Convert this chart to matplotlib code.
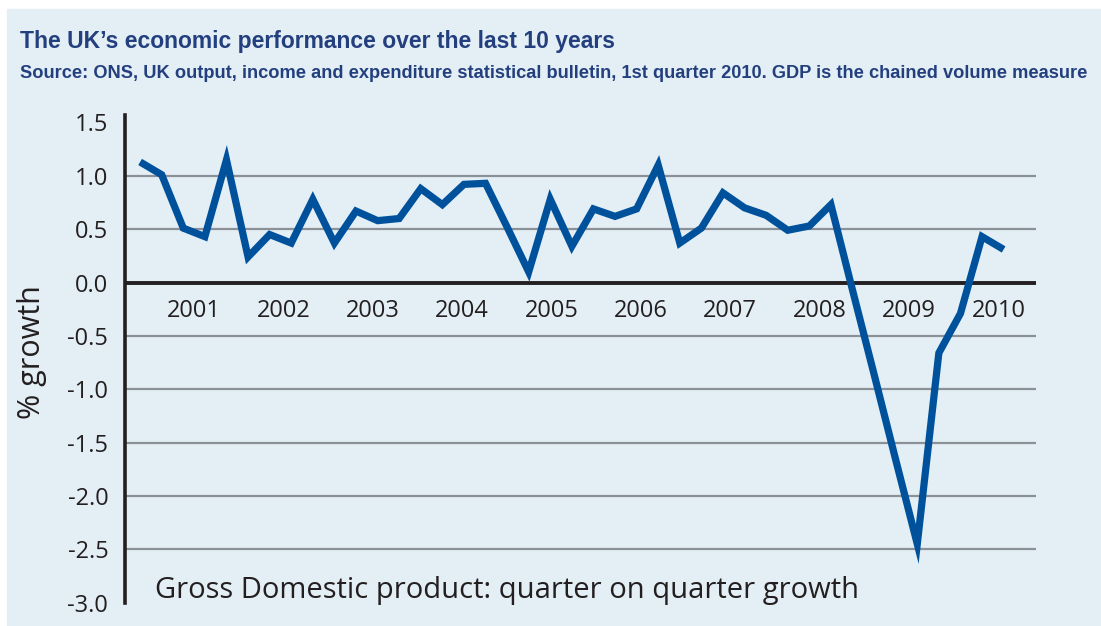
import numpy as np
import matplotlib
matplotlib.use("Agg")
import matplotlib.pyplot as plt

# quarter on quarter GDP growth, %
growth = [1.13, 1.01, 0.51, 0.43, 1.15, 0.24, 0.45, 0.37, 0.78, 0.37,
          0.67, 0.58, 0.60, 0.88, 0.73, 0.92, 0.93, 0.52, 0.10, 0.78,
          0.34, 0.69, 0.62, 0.69, 1.10, 0.37, 0.51, 0.84, 0.70, 0.63,
          0.49, 0.53, 0.73, -0.07, -0.86, -1.66, -2.45, -0.66, -0.29, 0.43,
          0.31]
years = ["2001", "2002", "2003", "2004", "2005", "2006", "2007", "2008", "2009", "2010"]
yticks = [1.5, 1.0, 0.5, 0.0, -0.5, -1.0, -1.5, -2.0, -2.5, -3.0]

title = "The UK\u2019s economic performance over the last 10 years"
subtitle = ("Source: ONS, UK output, income and expenditure statistical bulletin, 1st quarter 2010. "
            "GDP is the chained volume measure")

bg = "#e3eef5"
navy = "#233f7e"
ink = "#231f20"
blue = "#00519c"
grey = "#8b9197"

plt.rcParams["font.family"] = ["Open Sans", "DejaVu Sans"]

fig = plt.figure(figsize=(11.01, 6.26), dpi=100)
fig.patches.append(plt.Rectangle((7 / 1101, 0), 1, 1 - 9 / 626, transform=fig.transFigure,
                                 color=bg, zorder=-10))

ax = fig.add_axes([125 / 1101, 23.3 / 626, (1036 - 125) / 1101, (511 - 23.3) / 626])
ax.patch.set_alpha(0)

x = np.arange(len(growth))
ax.set_xlim(-0.7, 41.5)
ax.set_ylim(-3.0, 1.57)

for v in yticks:
    if v == 0.0:
        ax.axhline(v, color=ink, lw=2.8, zorder=2)
    elif -3.0 < v < 1.5:
        ax.axhline(v, color=grey, lw=1.6, zorder=1)

ax.plot(x, growth, color=blue, lw=5.2, solid_joinstyle="miter", solid_capstyle="butt", zorder=3)

for i, yr in enumerate(years):
    ax.text(2.5 + 4.14 * i, -0.265, yr, ha="center", va="center", fontsize=17, color=ink)

ax.text(0.7, -2.955, "Gross Domestic product: quarter on quarter growth",
        ha="left", va="baseline", fontsize=21, color=ink)

ax.set_yticks(yticks)
ax.set_yticklabels([f"{v:.1f}" for v in yticks], fontsize=17, color=ink)
ax.tick_params(axis="y", length=0, pad=12)
ax.set_xticks([])
for s in ["top", "right", "bottom"]:
    ax.spines[s].set_visible(False)
ax.spines["left"].set_color(ink)
ax.spines["left"].set_linewidth(2.6)

fig.text(32 / 1101, 1 - 352 / 626, "% growth", rotation=90, ha="center", va="center",
         fontsize=22, color=ink)

# header in a narrow bold face, sized so each line spans the same width as the original
head_font = ["Liberation Sans", "DejaVu Sans"]
t1 = fig.text(20 / 1101, 1 - 48 / 626, title, ha="left", va="baseline", fontsize=18,
              fontweight="bold", color=navy, family=head_font)
t2 = fig.text(20 / 1101, 1 - 78 / 626, subtitle, ha="left", va="baseline", fontsize=14,
              fontweight="bold", color=navy, family=head_font)
renderer = fig.canvas.get_renderer()
for t, width in [(t1, 596), (t2, 1068)]:
    w = t.get_window_extent(renderer).width
    t.set_fontsize(t.get_fontsize() * width / w)

fig.savefig("out.png", dpi=100, facecolor="white")
